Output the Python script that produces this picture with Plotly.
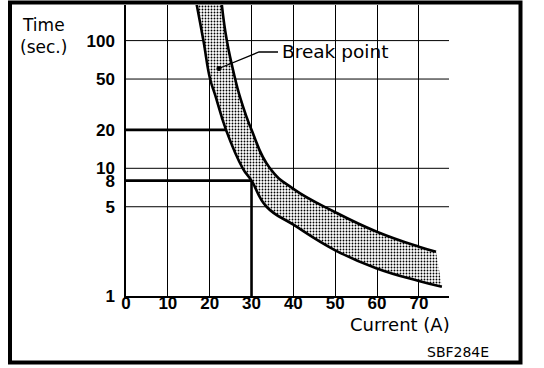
import plotly.graph_objects as go
import math

# ---- data ----
x_ticks = [0, 10, 20, 30, 40, 50, 60, 70]
x_tick_text = ["0", "10", "20", "30", "40", "50", "60", "70"]
y_ticks = [1, 5, 8, 10, 20, 50, 100]
y_tick_text = ["1", "5", "8", "10", "20", "50", "100"]
grid_times = [5, 10, 50, 100]

upper_current = [22.9, 24.1, 26.1, 27.1, 30.0, 34.4, 40.0, 49.9, 59.8, 70.0, 74.1]
upper_time = [191, 100, 50, 37.6, 20, 10, 6.9, 4.55, 3.2, 2.43, 2.22]
lower_current = [16.9, 18.5, 20.1, 21.3, 23.9, 27.9, 30.0, 33.6, 40.1, 49.9, 59.8, 70.0, 75.5]
lower_time = [191, 100, 50, 37.6, 20, 10, 8, 5, 3.6, 2.29, 1.65, 1.31, 1.18]

ref_current = 30
ref_times = [20, 8]

x_max = 77.2
y_top = 190

fig = go.Figure()

# horizontal grid lines
gx, gy = [], []
for t in grid_times:
    gx += [0, x_max, None]
    gy += [t, t, None]
fig.add_trace(go.Scatter(x=gx, y=gy, mode="lines", line=dict(color="black", width=1),
                         hoverinfo="skip", showlegend=False))

# thick reference lines
rx, ry = [], []
for t in ref_times:
    rx += [0, ref_current, None]
    ry += [t, t, None]
rx += [ref_current, ref_current]
ry += [1, max(ref_times)]
fig.add_trace(go.Scatter(x=rx, y=ry, mode="lines", line=dict(color="black", width=2.6),
                         hoverinfo="skip", showlegend=False))

# band
fig.add_trace(go.Scatter(x=lower_current, y=lower_time, mode="lines",
                         line=dict(color="black", width=2.6, shape="spline", smoothing=1.3),
                         hoverinfo="skip", showlegend=False))
fig.add_trace(go.Scatter(x=upper_current, y=upper_time, mode="lines",
                         line=dict(color="black", width=2.6, shape="spline", smoothing=1.3),
                         fill="tonexty", fillcolor="rgba(0,0,0,0)",
                         fillpattern=dict(shape=".", fgcolor="#000000", bgcolor="#ffffff",
                                          size=3, solidity=0.3, fillmode="replace"),
                         hoverinfo="skip", showlegend=False))

W, H = 544, 368
L, R, T, B = 126, 95, 5, 72
pw, ph = W - L - R, H - T - B


def px(x):
    return (x - L) / pw


def py(y):
    return (H - B - y) / ph


shapes = [
    dict(type="rect", xref="paper", yref="paper", x0=px(10), x1=px(520.5), y0=py(362.5), y1=py(2.5),
         line=dict(color="black", width=4), fillcolor="rgba(0,0,0,0)", layer="above"),
    dict(type="path", xref="paper", yref="paper",
         path=f"M {px(278)} {py(52)} L {px(259)} {py(52)} L {px(220)} {py(68)}",
         line=dict(color="black", width=1.3)),
    dict(type="circle", xref="paper", yref="paper", x0=px(216.5), x1=px(221.5), y0=py(71), y1=py(66),
         line=dict(color="black", width=0), fillcolor="black"),
]

txt_font = dict(family="DejaVu Sans", color="black")
annotations = [
    dict(text="Time", xref="paper", yref="paper", x=px(20), y=py(25), xanchor="left", yanchor="middle",
         showarrow=False, font=dict(size=17, **txt_font)),
    dict(text="(sec.)", xref="paper", yref="paper", x=px(18), y=py(46.5), xanchor="left", yanchor="middle",
         showarrow=False, font=dict(size=17, **txt_font)),
    dict(text="Break point", xref="paper", yref="paper", x=px(280), y=py(51.5), xanchor="left",
         yanchor="middle", showarrow=False, font=dict(size=18.5, **txt_font)),
    dict(text="Current (A)", xref="paper", yref="paper", x=px(400), y=py(324), xanchor="center",
         yanchor="middle", showarrow=False, font=dict(size=18, **txt_font)),
    dict(text="SBF284E", xref="paper", yref="paper", x=px(458), y=py(352), xanchor="center",
         yanchor="middle", showarrow=False, font=dict(size=14, **txt_font)),
]

tick_font = dict(family="Liberation Sans, Arial", size=17, color="black", weight="bold")

fig.update_layout(
    template="none",
    width=W, height=H,
    margin=dict(l=L, r=R, t=T, b=B, pad=0, autoexpand=False),
    paper_bgcolor="white", plot_bgcolor="white",
    showlegend=False,
    shapes=shapes,
    annotations=annotations,
    xaxis=dict(range=[0, x_max], tickvals=x_ticks, ticktext=x_tick_text, tickfont=tick_font,
               showgrid=True, gridcolor="black", gridwidth=1, zeroline=False, automargin=False,
               showline=True, linecolor="black", linewidth=1.5, ticks="", ticklabelstandoff=-9),
    yaxis=dict(type="log", range=[0, math.log10(y_top)], tickvals=y_ticks, ticktext=y_tick_text,
               tickfont=tick_font, showgrid=False, zeroline=False, automargin=False,
               showline=True, linecolor="black", linewidth=1.5, ticks="", ticklabelstandoff=6),
)

fig.write_html("out.html", config={"displayModeBar": False},
               post_script="document.body.style.margin='0';document.body.style.overflow='hidden';")
